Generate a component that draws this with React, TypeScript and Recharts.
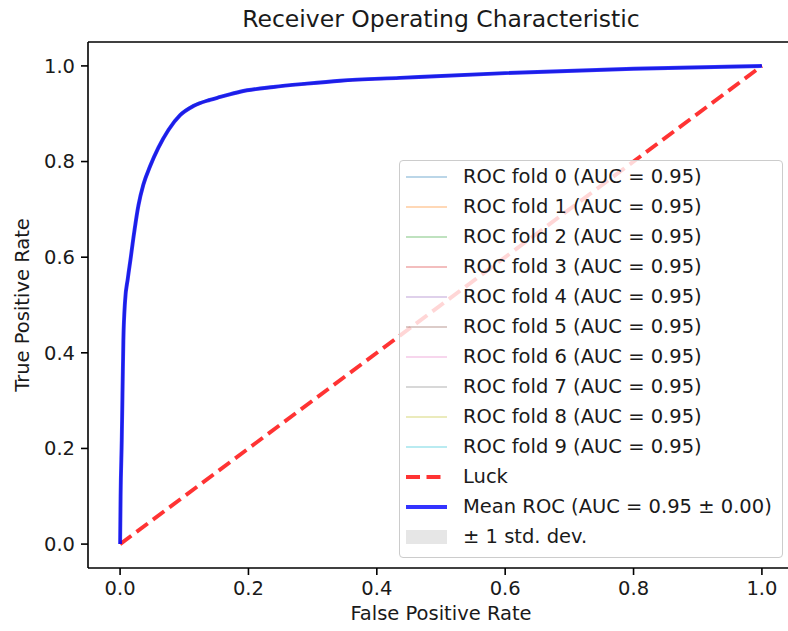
import React from 'react';
import { ComposedChart, Line, Area, XAxis, YAxis, Legend, ReferenceLine } from 'recharts';

// false positive rate grid shared by every fold and the mean curve
const FPR = [0, 0.0008, 0.0026, 0.0051, 0.0078, 0.012, 0.0167, 0.0207, 0.0285, 0.0363, 0.0467, 0.0597, 0.0753, 0.0935, 0.114, 0.14, 0.156, 0.187, 0.239, 0.291, 0.343, 0.436, 0.6, 0.8, 1.0];

const MEAN_TPR = [0, 0.1, 0.217, 0.426, 0.509, 0.555, 0.6, 0.64, 0.708, 0.752, 0.79, 0.829, 0.866, 0.897, 0.916, 0.929, 0.935, 0.946, 0.956, 0.963, 0.969, 0.975, 0.985, 0.994, 1];
const STD_TPR = [0, 0.012, 0.01, 0.007, 0.005, 0.004, 0.004, 0.003, 0.003, 0.003, 0.002, 0.002, 0.002, 0.001, 0.001, 0.001, 0.001, 0.001, 0.001, 0.001, 0.001, 0.001, 0.001, 0.001, 0];

const FOLD_0 = [0, 0.11, 0.225, 0.43, 0.512, 0.558, 0.603, 0.643, 0.71, 0.754, 0.791, 0.83, 0.867, 0.898, 0.917, 0.93, 0.936, 0.946, 0.956, 0.963, 0.969, 0.975, 0.985, 0.994, 1];
const FOLD_1 = [0, 0.09, 0.205, 0.42, 0.503, 0.55, 0.596, 0.636, 0.705, 0.749, 0.788, 0.827, 0.865, 0.896, 0.915, 0.928, 0.934, 0.945, 0.955, 0.962, 0.968, 0.975, 0.985, 0.994, 1];
const FOLD_2 = [0, 0.12, 0.23, 0.435, 0.515, 0.561, 0.605, 0.645, 0.712, 0.756, 0.793, 0.831, 0.868, 0.899, 0.918, 0.93, 0.936, 0.947, 0.957, 0.964, 0.97, 0.976, 0.986, 0.994, 1];
const FOLD_3 = [0, 0.08, 0.2, 0.415, 0.5, 0.548, 0.594, 0.635, 0.703, 0.748, 0.787, 0.826, 0.864, 0.895, 0.914, 0.928, 0.934, 0.945, 0.955, 0.962, 0.968, 0.974, 0.984, 0.993, 1];
const FOLD_4 = [0, 0.1, 0.218, 0.427, 0.51, 0.556, 0.601, 0.641, 0.709, 0.752, 0.79, 0.829, 0.866, 0.897, 0.916, 0.929, 0.935, 0.946, 0.956, 0.963, 0.969, 0.975, 0.985, 0.994, 1];
const FOLD_5 = [0, 0.105, 0.22, 0.428, 0.511, 0.556, 0.6, 0.639, 0.707, 0.751, 0.789, 0.828, 0.866, 0.897, 0.916, 0.929, 0.935, 0.946, 0.956, 0.963, 0.969, 0.975, 0.985, 0.994, 1];
const FOLD_6 = [0, 0.095, 0.212, 0.424, 0.507, 0.553, 0.598, 0.639, 0.707, 0.752, 0.791, 0.83, 0.867, 0.898, 0.917, 0.929, 0.935, 0.946, 0.956, 0.963, 0.969, 0.975, 0.985, 0.994, 1];
const FOLD_7 = [0, 0.1, 0.215, 0.425, 0.508, 0.554, 0.599, 0.64, 0.708, 0.752, 0.79, 0.829, 0.866, 0.897, 0.916, 0.929, 0.935, 0.946, 0.956, 0.963, 0.969, 0.975, 0.985, 0.994, 1];
const FOLD_8 = [0, 0.105, 0.219, 0.427, 0.51, 0.556, 0.601, 0.641, 0.708, 0.753, 0.79, 0.829, 0.866, 0.897, 0.916, 0.929, 0.935, 0.946, 0.956, 0.963, 0.969, 0.975, 0.985, 0.994, 1];
const FOLD_9 = [0, 0.1, 0.216, 0.425, 0.509, 0.555, 0.6, 0.64, 0.708, 0.752, 0.79, 0.829, 0.866, 0.897, 0.916, 0.929, 0.935, 0.946, 0.956, 0.963, 0.969, 0.976, 0.985, 0.994, 1];

const FOLDS = [FOLD_0, FOLD_1, FOLD_2, FOLD_3, FOLD_4, FOLD_5, FOLD_6, FOLD_7, FOLD_8, FOLD_9];
const FOLD_AUC = [0.95, 0.95, 0.95, 0.95, 0.95, 0.95, 0.95, 0.95, 0.95, 0.95];
const MEAN_AUC = 0.95;
const STD_AUC = 0.0;

const LUCK_FPR = [0, 1];
const LUCK_TPR = [0, 1];

const TICKS = [0, 0.2, 0.4, 0.6, 0.8, 1.0];

const FOLD_COLORS = ['#1f77b4', '#ff7f0e', '#2ca02c', '#d62728', '#9467bd', '#8c564b', '#e377c2', '#7f7f7f', '#bcbd22', '#17becf'];

const FONT = 'DejaVu Sans';
const TEXT = '#1a1a1a';

const rows = FPR.map((fpr, i) => {
    const row: any = {
        fpr,
        mean: MEAN_TPR[i],
        band: [Math.max(MEAN_TPR[i] - STD_TPR[i], 0), Math.min(MEAN_TPR[i] + STD_TPR[i], 1)],
    };
    FOLDS.forEach((f, k) => {
        row[`fold${k}`] = f[i];
    });
    return row;
});

const luckData = LUCK_FPR.map((fpr, i) => ({ fpr, luck: LUCK_TPR[i] }));

type LegendItem = { label: string; kind: 'fold' | 'luck' | 'mean' | 'band'; color: string };

const legendItems: LegendItem[] = [
    ...FOLD_AUC.map((auc, k) => ({ label: `ROC fold ${k} (AUC = ${auc.toFixed(2)})`, kind: 'fold' as const, color: FOLD_COLORS[k] })),
    { label: 'Luck', kind: 'luck', color: 'red' },
    { label: `Mean ROC (AUC = ${MEAN_AUC.toFixed(2)} \u00b1 ${STD_AUC.toFixed(2)})`, kind: 'mean', color: 'blue' },
    { label: '\u00b1 1 std. dev.', kind: 'band', color: 'grey' },
];

const Handle = ({ item }: { item: LegendItem }) => {
    let mark;
    if (item.kind === 'fold') mark = <line x1={0} y1={15} x2={41} y2={15} stroke={item.color} strokeOpacity={0.3} strokeWidth={2} />;
    else if (item.kind === 'luck') mark = <line x1={0} y1={15} x2={41} y2={15} stroke="#ff0000" strokeOpacity={0.8} strokeWidth={3.9} strokeDasharray="14 6.5" />;
    else if (item.kind === 'mean') mark = <line x1={0} y1={15} x2={41} y2={15} stroke="#0000ff" strokeOpacity={0.8} strokeWidth={3.9} />;
    else mark = <rect x={0} y={8} width={41} height={14} fill="#808080" fillOpacity={0.2} />;
    return <svg width={42} height={30} style={{ display: 'block', flex: 'none' }}>{mark}</svg>;
};

const renderLegend = () => (
    <div
        style={{
            width: 382,
            border: '1px solid #cccccc',
            borderRadius: 4,
            background: 'rgba(255,255,255,0.8)',
            padding: '1px 0 5px 0',
            fontFamily: FONT,
            fontSize: 19.5,
            color: TEXT,
        }}
    >
        {legendItems.map((item) => (
            <div key={item.label} style={{ display: 'flex', alignItems: 'center', height: 30, paddingLeft: 6 }}>
                <Handle item={item} />
                <span style={{ marginLeft: 15, whiteSpace: 'nowrap', lineHeight: '30px' }}>{item.label}</span>
            </div>
        ))}
    </div>
);

const tickStyle = { fill: TEXT, fontSize: 19.5, fontFamily: FONT };

const App = () => {
    return (
        <div style={{ position: 'absolute', top: 0, left: 0, width: 788, height: 631, overflow: 'hidden', background: '#fff', fontFamily: FONT }}>
            <div
                style={{
                    position: 'absolute',
                    top: 4,
                    left: 0,
                    width: 882,
                    textAlign: 'center',
                    fontSize: 23.5,
                    color: TEXT,
                    lineHeight: '30px',
                }}
            >
                Receiver Operating Characteristic
            </div>
            <ComposedChart width={800} height={631} data={rows} margin={{ top: 42, right: 6, bottom: 0, left: 0 }}>
                <XAxis
                    type="number"
                    dataKey="fpr"
                    domain={[-0.05, 1.05]}
                    ticks={TICKS}
                    allowDataOverflow
                    tickFormatter={(v: number) => v.toFixed(1)}
                    tick={tickStyle}
                    tickSize={7}
                    tickMargin={6}
                    height={63}
                    axisLine={{ stroke: '#000', strokeWidth: 1.6 }}
                    tickLine={{ stroke: '#000', strokeWidth: 1.6 }}
                    label={{ value: 'False Positive Rate', position: 'center', dy: 14, fill: TEXT, fontSize: 19.5, fontFamily: FONT }}
                />
                <YAxis
                    type="number"
                    domain={[-0.05, 1.05]}
                    ticks={TICKS}
                    allowDataOverflow
                    tickFormatter={(v: number) => v.toFixed(1)}
                    tick={tickStyle}
                    tickSize={7}
                    tickMargin={6}
                    width={88}
                    axisLine={{ stroke: '#000', strokeWidth: 1.6 }}
                    tickLine={{ stroke: '#000', strokeWidth: 1.6 }}
                    label={{ value: 'True Positive Rate', angle: -90, position: 'center', dx: -22, fill: TEXT, fontSize: 19.5, fontFamily: FONT }}
                />
                <ReferenceLine y={1.05} stroke="#000" strokeWidth={1.6} />
                <ReferenceLine x={1.05} stroke="#000" strokeWidth={1.6} />
                {FOLDS.map((_, k) => (
                    <Line
                        key={k}
                        type="monotone"
                        dataKey={`fold${k}`}
                        stroke={FOLD_COLORS[k]}
                        strokeOpacity={0.3}
                        strokeWidth={2}
                        dot={false}
                        isAnimationActive={false}
                    />
                ))}
                <Line
                    data={luckData}
                    type="linear"
                    dataKey="luck"
                    stroke="#ff0000"
                    strokeOpacity={0.8}
                    strokeWidth={3.9}
                    strokeDasharray="14 6.5"
                    dot={false}
                    isAnimationActive={false}
                />
                <Line type="monotone" dataKey="mean" stroke="#0000ff" strokeOpacity={0.8} strokeWidth={3.9} dot={false} isAnimationActive={false} />
                <Area type="monotone" dataKey="band" stroke="none" fill="#808080" fillOpacity={0.2} isAnimationActive={false} />
                <Legend
                    layout="vertical"
                    align="center"
                    verticalAlign="middle"
                    content={renderLegend}
                    wrapperStyle={{ top: 160, left: 399, width: 384 }}
                />
            </ComposedChart>
        </div>
    );
};

export default App;
